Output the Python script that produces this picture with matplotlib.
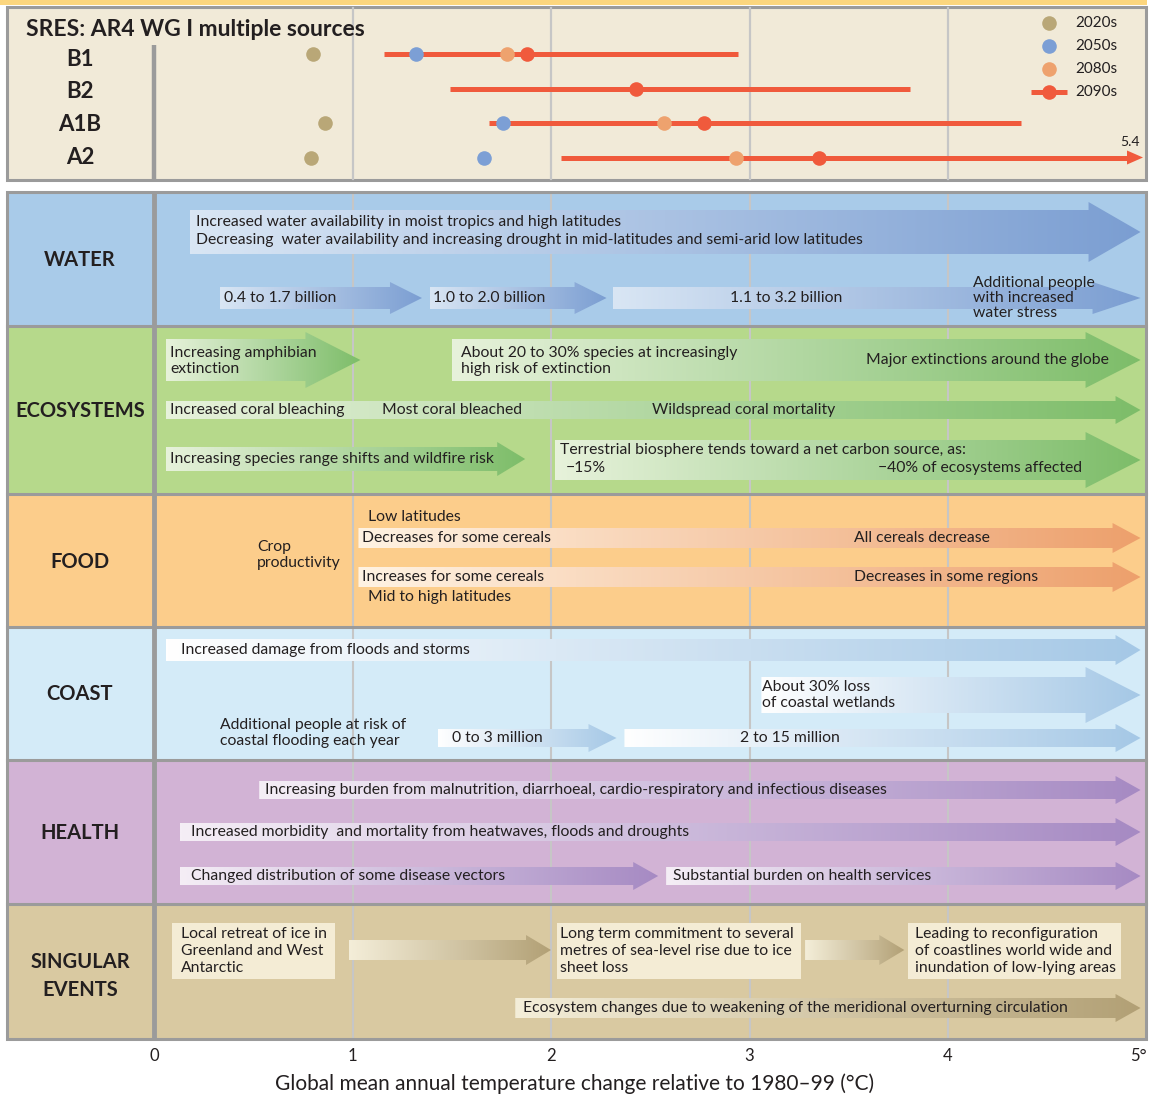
import numpy as np
import matplotlib.pyplot as plt
from matplotlib.patches import Polygon, Rectangle
from matplotlib.colors import to_rgba

plt.rcParams['font.family'] = ['Lato', 'DejaVu Sans']

# ---- projected warming by scenario (degC above 1980-99) ----
scenarios = ['B1', 'B2', 'A1B', 'A2']
decades = ['2020s', '2050s', '2080s', '2090s']
t_2020s = [0.80, np.nan, 0.86, 0.79]
t_2050s = [1.32, np.nan, 1.76, 1.66]
t_2080s = [1.78, np.nan, 2.57, 2.93]
t_2090s = [1.88, 2.43, 2.77, 3.35]
likely_low = [1.16, 1.49, 1.69, 2.05]
likely_high = [2.94, 3.81, 4.37, 5.4]

sectors = ['WATER', 'ECOSYSTEMS', 'FOOD', 'COAST', 'HEALTH', 'SINGULAR\nEVENTS']
temp_ticks = [0, 1, 2, 3, 4, 5]
temp_labels = ['0', '1', '2', '3', '4', '5°']
xlabel = 'Global mean annual temperature change relative to 1980–99 (°C)'

# ---- impacts: (start, end) in degC and texts ----
water_spans = [(0.18, 4.97), (0.33, 1.35), (1.39, 2.28), (2.31, 4.97)]
water_text = ['Increased water availability in moist tropics and high latitudes',
              'Decreasing  water availability and increasing drought in mid-latitudes and semi-arid low latitudes',
              '0.4 to 1.7 billion', '1.0 to 2.0 billion', '1.1 to 3.2 billion',
              'Additional people\nwith increased\nwater stress']

eco_spans = [(0.06, 1.04), (1.50, 4.97), (0.06, 4.97), (0.06, 1.87), (2.02, 4.97)]
eco_text = ['Increasing amphibian\nextinction',
            'About 20 to 30% species at increasingly\nhigh risk of extinction',
            'Major extinctions around the globe',
            'Increased coral bleaching', 'Most coral bleached', 'Wildspread coral mortality',
            'Increasing species range shifts and wildfire risk',
            'Terrestrial biosphere tends toward a net carbon source, as:',
            '\u221215%', '\u221240% of ecosystems affected']

food_spans = [(1.03, 4.97), (1.03, 4.97)]
food_text = ['Crop\nproductivity', 'Low latitudes', 'Decreases for some cereals', 'All cereals decrease',
             'Increases for some cereals', 'Decreases in some regions', 'Mid to high latitudes']

coast_spans = [(0.06, 4.97), (3.06, 4.97), (1.43, 2.33), (2.37, 4.97)]
coast_text = ['Increased damage from floods and storms', 'About 30% loss\nof coastal wetlands',
              'Additional people at risk of\ncoastal flooding each year', '0 to 3 million', '2 to 15 million']

health_spans = [(0.53, 4.97), (0.13, 4.97), (0.13, 2.54), (2.58, 4.97)]
health_text = ['Increasing burden from malnutrition, diarrhoeal, cardio-respiratory and infectious diseases',
               'Increased morbidity  and mortality from heatwaves, floods and droughts',
               'Changed distribution of some disease vectors',
               'Substantial burden on health services']

singular_boxes = [(0.09, 0.91), (2.03, 3.26), (3.80, 4.87)]
singular_spans = [(0.98, 2.00), (3.28, 3.78), (1.82, 4.97)]
singular_text = ['Local retreat of ice in\nGreenland and West\nAntarctic',
                 'Long term commitment to several\nmetres of sea-level rise due to ice\nsheet loss',
                 'Leading to reconfiguration\nof coastlines world wide and\ninundation of low-lying areas',
                 'Ecosystem changes due to weakening of the meridional overturning circulation']

# ---- layout ----
W, H = 1156, 1096
PX0, PXD = 154.0, 198.5   # pixel column of 0 degC, pixels per degC
INK = '#231f20'
FRAME = '#9b9b9b'
GRID = '#c6c6c6'
RED = '#f05a3c'
dot_colors = ['#b9a777', '#7c9fd5', '#eea26e', RED]
BODY = 11.3


def T(p):
    return (p - PX0) / PXD


fig = plt.figure(figsize=(W / 100, H / 100), dpi=100)
ax = fig.add_axes([0, 0, 1, 1])
ax.axis('off')


def rect(x0, x1, y0, y1, fc, ec='none', lw=0, z=1):
    ax.add_patch(Rectangle((x0, y0), x1 - x0, y1 - y0, facecolor=fc,
                           edgecolor=ec, linewidth=lw, zorder=z))


def arrow(span, yc, bh, hh, hl, c0, c1, gamma=1.0):
    t0, t1 = span
    hl = hl / PXD
    xs = [t0, t1 - hl, t1 - hl, t1, t1 - hl, t1 - hl, t0]
    ys = [yc - bh, yc - bh, yc - hh, yc, yc + hh, yc + bh, yc + bh]
    poly = Polygon(np.column_stack([xs, ys]), closed=True, facecolor='none',
                   edgecolor='none', zorder=3)
    ax.add_patch(poly)
    f = np.linspace(0, 1, 256) ** gamma
    a, b = np.array(to_rgba(c0)), np.array(to_rgba(c1))
    img = (a[None, :] * (1 - f[:, None]) + b[None, :] * f[:, None])[None, :, :]
    im = ax.imshow(img, extent=[t0, t1, yc + hh, yc - hh], aspect='auto',
                   interpolation='bilinear', zorder=3)
    im.set_clip_path(poly)


def label(p, y, s, size=BODY, ha='left', weight='normal', ls=1.25, z=5):
    ax.text(T(p), y, s, fontsize=size, ha=ha, va='center', color=INK,
            fontweight=weight, linespacing=ls, zorder=z)


# ---- top panel: scenarios ----
rect(T(0), T(1147), 0, 4.5, '#fcd67e', z=0)
rect(T(7), T(1146), 6.5, 180, '#f1ead8', FRAME, 2.2, z=0)
for t in temp_ticks[1:5]:
    ax.plot([t, t], [8, 179], color=GRID, lw=1.6, zorder=1)
ax.plot([0, 0], [45, 179], color=FRAME, lw=3.2, zorder=2, solid_capstyle='butt')
label(26, 29, 'SRES: AR4 WG I multiple sources', size=16.5, weight='bold')

row_y = [54 + 34.5 * i for i in range(len(scenarios))]
name_y = [59 + 32.7 * i for i in range(len(scenarios))]
xmax = T(1128)
for i, name in enumerate(scenarios):
    label(80, name_y[i], name, size=16, weight='bold', ha='center')
    hi = min(likely_high[i], xmax)
    ax.plot([likely_low[i], hi], [row_y[i]] * 2, color=RED, lw=3.6,
            solid_capstyle='butt', zorder=3)
    if likely_high[i] > xmax:
        ax.add_patch(Polygon([[xmax - 0.005, row_y[i] - 7], [T(1143), row_y[i]],
                              [xmax - 0.005, row_y[i] + 7]], closed=True,
                             facecolor=RED, edgecolor='none', zorder=3))
        ax.text(T(1130), row_y[i] - 15, f'{likely_high[i]:.1f}', fontsize=10,
                ha='center', va='center', color=INK)

for vals, c in zip([t_2020s, t_2050s, t_2080s, t_2090s], dot_colors):
    ax.plot(vals, row_y, 'o', ms=10.5, color=c, mec='none', zorder=4)

# legend
leg_y = [23, 46, 69, 92]
for j, (d, c) in enumerate(zip(decades, dot_colors)):
    if j == 3:
        ax.plot([T(1031), T(1067)], [leg_y[j]] * 2, color=c, lw=3.6,
                solid_capstyle='butt', zorder=3)
    ax.plot(T(1049), leg_y[j], 'o', ms=10.5, color=c, mec='none', zorder=4)
    label(1075, leg_y[j], d, size=11)

# ---- bottom panel: sector backgrounds ----
sec_edges = [192, 326, 494, 627, 760, 904, 1039]
sec_colors = ['#a9cbe9', '#b6d98b', '#fccd8b', '#d4ebf8', '#d2b3d5', '#d9c9a1']
for i, s in enumerate(sectors):
    rect(T(7), T(1146), sec_edges[i], sec_edges[i + 1], sec_colors[i], z=0)
    yc = (sec_edges[i] + sec_edges[i + 1]) / 2 + (4 if '\n' in s else 1)
    label(80, yc, s, size=14.5, weight='bold', ha='center', ls=1.5)
for y in sec_edges[1:-1]:
    ax.plot([T(7), T(1146)], [y, y], color=FRAME, lw=2.2, zorder=2)
for t in temp_ticks[1:5]:
    ax.plot([t, t], [193, 1038], color=GRID, lw=1.5, zorder=1)
ax.plot([0, 0], [192, 1039], color=FRAME, lw=3.5, zorder=2, solid_capstyle='butt')
rect(T(7), T(1146), 192, 1039, 'none', FRAME, 2.2, z=6)

# WATER
wc0, wc1 = '#d9e6f4', '#7b9ed2'
arrow(water_spans[0], 232, 22, 30, 52, wc0, wc1)
label(196, 222, water_text[0])
label(196, 240, water_text[1])
arrow(water_spans[1], 298, 11, 16, 32, wc0, wc1)
arrow(water_spans[2], 298, 11, 16, 32, wc0, wc1)
arrow(water_spans[3], 298, 11, 16, 48, wc0, wc1)
label(224, 298, water_text[2])
label(433, 298, water_text[3])
label(786, 298, water_text[4], ha='center')
label(973, 298, water_text[5], ls=1.12)

# ECOSYSTEMS
ec0, ec1 = '#e7f2db', '#7dbd69'
arrow(eco_spans[0], 360, 21, 28, 55, ec0, ec1)
arrow(eco_spans[1], 360, 21, 28, 55, ec0, ec1)
arrow(eco_spans[2], 410, 9, 14, 25, ec0, ec1)
arrow(eco_spans[3], 459, 12, 17, 28, ec0, ec1)
arrow(eco_spans[4], 460, 20, 28, 55, ec0, ec1)
label(170, 361, eco_text[0])
label(461, 361, eco_text[1])
label(1109, 360, eco_text[2], ha='right')
label(170, 410, eco_text[3])
label(382, 410, eco_text[4])
label(652, 410, eco_text[5])
label(170, 459, eco_text[6])
label(560, 450, eco_text[7])
label(566, 468, eco_text[8])
label(878, 468, eco_text[9])

# FOOD
fc0, fc1 = '#fff3e3', '#eda06c'
arrow(food_spans[0], 538, 10, 15, 28, fc0, fc1)
arrow(food_spans[1], 577, 10, 15, 28, fc0, fc1)
label(257, 555, food_text[0])
label(368, 517, food_text[1])
label(362, 538, food_text[2])
label(854, 538, food_text[3])
label(362, 577, food_text[4])
label(854, 577, food_text[5])
label(368, 597, food_text[6])

# COAST
cc0, cc1 = '#ffffff', '#a5c8e6'
arrow(coast_spans[0], 650, 11, 15, 25, cc0, cc1)
arrow(coast_spans[1], 695, 18, 28, 55, cc0, cc1)
arrow(coast_spans[2], 738, 9, 14, 28, cc0, cc1)
arrow(coast_spans[3], 738, 9, 14, 25, cc0, cc1)
label(181, 650, coast_text[0])
label(762, 695, coast_text[1])
label(220, 733, coast_text[2])
label(452, 738, coast_text[3])
label(790, 738, coast_text[4], ha='center')

# HEALTH
hc0, hc1 = '#f5eef6', '#a68ac3'
arrow(health_spans[0], 790, 9, 14, 25, hc0, hc1)
arrow(health_spans[1], 832, 9, 14, 25, hc0, hc1)
arrow(health_spans[2], 876, 9, 14, 25, hc0, hc1)
arrow(health_spans[3], 876, 9, 14, 25, hc0, hc1)
label(265, 790, health_text[0])
label(191, 832, health_text[1])
label(191, 876, health_text[2])
label(673, 876, health_text[3])

# SINGULAR EVENTS
sc0, sc1 = '#f4eed9', '#b2a075'
for b0, b1 in singular_boxes:
    rect(b0, b1, 923, 979, '#f4ecd5', z=3)
arrow(singular_spans[0], 950, 10, 15, 25, sc0, sc1)
arrow(singular_spans[1], 950, 10, 15, 25, sc0, sc1)
arrow(singular_spans[2], 1008, 10, 14, 25, sc0, sc1)
label(181, 951, singular_text[0])
label(560, 951, singular_text[1])
label(915, 951, singular_text[2])
label(523, 1008, singular_text[3])

# ---- temperature axis ----
for t, s in zip(temp_ticks, temp_labels):
    ax.text(t, 1056, s, fontsize=12, ha='right' if s.endswith('°') else 'center',
            va='center', color=INK)
ax.text(T(575), 1084, xlabel, fontsize=15, ha='center', va='center', color=INK)

ax.set_xlim(T(0), T(W))
ax.set_ylim(H, 0)
fig.savefig('out.png', dpi=100)
